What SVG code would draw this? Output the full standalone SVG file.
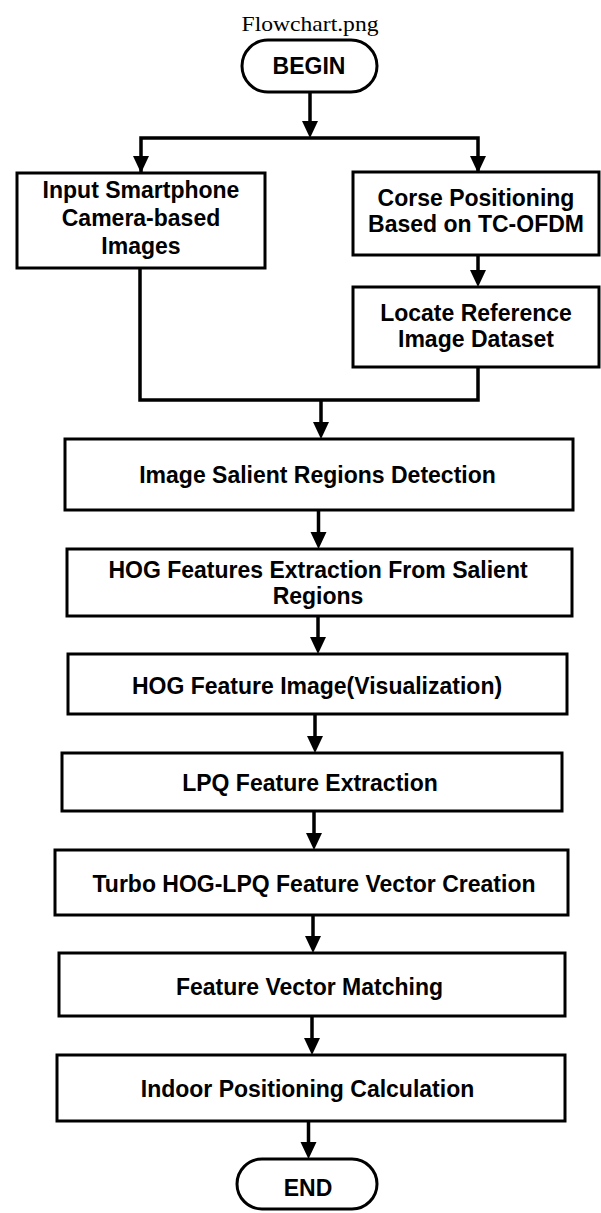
<svg xmlns="http://www.w3.org/2000/svg" width="601" height="1213" viewBox="0 0 601 1213">
  <style>
    .box { fill: #ffffff; stroke: #000000; stroke-width: 3; }
    .lbl { font-family: "Liberation Sans", Arial, sans-serif; font-weight: bold; font-size: 23px; fill: #000000; text-anchor: middle; }
    .title { font-family: "Liberation Serif", "Times New Roman", serif; font-size: 21px; fill: #000000; text-anchor: middle; }
    .wire { fill: none; stroke: #000000; stroke-width: 3.5; }
  </style>

  <text class="title" x="310" y="31" textLength="137" lengthAdjust="spacingAndGlyphs">Flowchart.png</text>

  <g id="connectors">
    <!-- begin to split bar -->
    <line class="wire" x1="310" y1="92" x2="310" y2="122"/>
    <path d="M302,121 L318,121 L310,138 Z"/>
    <polyline class="wire" points="141,172 141,138 478,138 478,172"/>
    <path d="M133,156 L149,156 L141,173 Z"/>
    <path d="M470,156 L486,156 L478,173 Z"/>
    <!-- corse positioning to locate reference -->
    <line class="wire" x1="478" y1="255" x2="478" y2="272"/>
    <path d="M470,270 L486,270 L478,287 Z"/>
    <!-- merge of both branches -->
    <polyline class="wire" points="140,268 140,400 478,400 478,367"/>
    <line class="wire" x1="321" y1="400" x2="321" y2="424"/>
    <path d="M313,422 L329,422 L321,439 Z"/>
    <!-- main chain -->
    <line class="wire" x1="318.5" y1="510" x2="318.5" y2="534"/>
    <path d="M310.5,532 L326.5,532 L318.5,549 Z"/>
    <line class="wire" x1="318" y1="616" x2="318" y2="639"/>
    <path d="M310,637 L326,637 L318,654 Z"/>
    <line class="wire" x1="315" y1="714" x2="315" y2="738"/>
    <path d="M307,736 L323,736 L315,753 Z"/>
    <line class="wire" x1="314" y1="811" x2="314" y2="835"/>
    <path d="M306,833 L322,833 L314,850 Z"/>
    <line class="wire" x1="313" y1="915" x2="313" y2="938"/>
    <path d="M305,936 L321,936 L313,953 Z"/>
    <line class="wire" x1="312" y1="1016" x2="312" y2="1040"/>
    <path d="M304,1038 L320,1038 L312,1055 Z"/>
    <line class="wire" x1="308.5" y1="1121" x2="308.5" y2="1144"/>
    <path d="M300.5,1142 L316.5,1142 L308.5,1159 Z"/>
  </g>

  <g id="begin">
    <rect class="box" x="242" y="40" width="135" height="52" rx="26" ry="26"/>
    <text class="lbl" x="309" y="74" font-size="24">BEGIN</text>
  </g>

  <g id="input-images">
    <rect class="box" x="17" y="173" width="248" height="95"/>
    <text class="lbl" x="141" y="198">Input Smartphone</text>
    <text class="lbl" x="141" y="226">Camera-based</text>
    <text class="lbl" x="141" y="254">Images</text>
  </g>

  <g id="corse-positioning">
    <rect class="box" x="353" y="172" width="246" height="83"/>
    <text class="lbl" x="476" y="206">Corse Positioning</text>
    <text class="lbl" x="476" y="232">Based on TC-OFDM</text>
  </g>

  <g id="locate-reference">
    <rect class="box" x="353" y="287" width="246" height="80"/>
    <text class="lbl" x="476" y="321">Locate Reference</text>
    <text class="lbl" x="476" y="347">Image Dataset</text>
  </g>

  <g id="salient-detection">
    <rect class="box" x="65" y="439" width="508" height="71"/>
    <text class="lbl" x="317.5" y="482.5">Image Salient Regions Detection</text>
  </g>

  <g id="hog-extraction">
    <rect class="box" x="67" y="549" width="505" height="67"/>
    <text class="lbl" x="318" y="577.5">HOG Features Extraction From Salient</text>
    <text class="lbl" x="318" y="603.5">Regions</text>
  </g>

  <g id="hog-image">
    <rect class="box" x="68" y="654" width="499" height="60"/>
    <text class="lbl" x="317" y="694">HOG Feature Image(Visualization)</text>
  </g>

  <g id="lpq-extraction">
    <rect class="box" x="62" y="753" width="500" height="58"/>
    <text class="lbl" x="310" y="791">LPQ Feature Extraction</text>
  </g>

  <g id="turbo-vector">
    <rect class="box" x="55" y="850" width="513" height="65"/>
    <text class="lbl" x="314" y="891.5">Turbo HOG-LPQ Feature Vector Creation</text>
  </g>

  <g id="vector-matching">
    <rect class="box" x="59" y="953" width="506" height="63"/>
    <text class="lbl" x="309.5" y="995">Feature Vector Matching</text>
  </g>

  <g id="positioning-calc">
    <rect class="box" x="57" y="1055" width="508" height="66"/>
    <text class="lbl" x="307.5" y="1097">Indoor Positioning Calculation</text>
  </g>

  <g id="end">
    <rect class="box" x="237" y="1159" width="140" height="50" rx="25" ry="25"/>
    <text class="lbl" x="308" y="1196" font-size="24">END</text>
  </g>
</svg>
